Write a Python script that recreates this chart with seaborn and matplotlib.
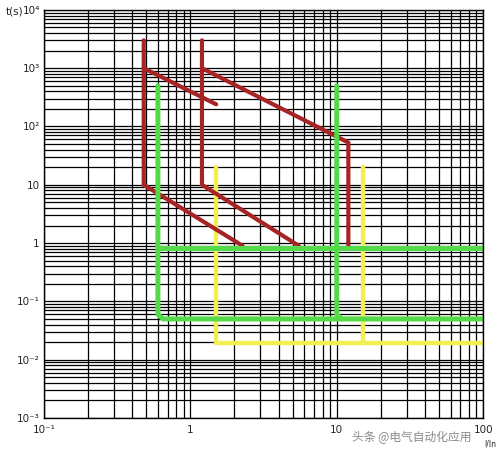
import seaborn as sns
import matplotlib as mpl
mpl.use("Agg")
import matplotlib.pyplot as plt
from matplotlib.ticker import LogLocator, NullFormatter

# 曲线数据 (I/In, t(s))
red1_x = [0.48, 0.48, 2.27]
red1_y = [3000, 10, 0.9]
red1_up_x = [0.48, 1.5]
red1_up_y = [1000, 240]

red2_x = [1.2, 1.2, 5.5]
red2_y = [3000, 10, 0.9]
red2_up_x = [1.2, 12, 12]
red2_up_y = [1000, 53, 0.9]

green1_x = [0.6, 0.6, 0.65, 100]
green1_y = [500, 0.06, 0.05, 0.05]
green_mid_x = [0.6, 100]
green_mid_y = [0.82, 0.82]
green2_x = [10, 10, 10.8]
green2_y = [500, 0.06, 0.05]

yellow1_x = [1.5, 1.5, 100]
yellow1_y = [20, 0.019, 0.019]
yellow_mid_x = [1.5, 100]
yellow_mid_y = [0.05, 0.05]
yellow2_x = [15, 15]
yellow2_y = [20, 0.019]

x_ticks = [0.1, 1, 10, 100]
x_labels = ["10⁻¹", "1", "10", "100"]
y_ticks = [1e-3, 1e-2, 1e-1, 1, 10, 1e2, 1e3, 1e4]
y_labels = ["10⁻³", "10⁻²", "10⁻¹", "1", "10", "10²", "10³", "10⁴"]

sns.set_style("white")
plt.rcParams['font.family'] = ['DejaVu Sans']

fig = plt.figure(figsize=(5.03, 4.54), dpi=100)
ax = fig.add_axes([0.0875, 0.0793, 0.873, 0.899])
ax.set_xscale("log")
ax.set_yscale("log")
ax.set_xlim(0.1, 100)
ax.set_ylim(1e-3, 1e4)

ax.xaxis.set_minor_locator(LogLocator(base=10, subs=range(2, 10)))
ax.yaxis.set_minor_locator(LogLocator(base=10, subs=range(2, 10)))
ax.xaxis.set_minor_formatter(NullFormatter())
ax.yaxis.set_minor_formatter(NullFormatter())
ax.grid(True, which="both", color="black", lw=0.9)
ax.set_axisbelow(True)

yel = "#f2ef55"
red = "#a82424"
grn = "#52da48"

for xs, ys in [(yellow_mid_x, yellow_mid_y), (yellow1_x, yellow1_y), (yellow2_x, yellow2_y)]:
    sns.lineplot(x=xs, y=ys, sort=False, estimator=None, color=yel, lw=3.2, ax=ax)
for xs, ys in [(red1_x, red1_y), (red1_up_x, red1_up_y), (red2_x, red2_y), (red2_up_x, red2_up_y)]:
    sns.lineplot(x=xs, y=ys, sort=False, estimator=None, color=red, lw=3.0, ax=ax)
for xs, ys in [(green1_x, green1_y), (green_mid_x, green_mid_y), (green2_x, green2_y)]:
    sns.lineplot(x=xs, y=ys, sort=False, estimator=None, color=grn, lw=3.6, ax=ax,
                 solid_joinstyle="round")

ax.set_xticks(x_ticks)
ax.set_xticklabels(x_labels, fontsize=7.5)
ax.set_yticks(y_ticks)
ax.set_yticklabels(y_labels, fontsize=7.5)
ax.tick_params(which="both", length=0)
ax.tick_params(axis="x", pad=5)
ax.tick_params(axis="y", pad=3)
for s in ax.spines.values():
    s.set_color("black")
    s.set_linewidth(1.0)

fig.text(0.012, 0.975, "t(s)", fontsize=7.5, va="center")
fig.text(0.975, 0.022, "I/In", fontsize=5.5, ha="center", va="center")
fig.text(0.70, 0.036, "头条 @电气自动化应用", fontsize=8.5, color="#8a8a8a",
         family=["Noto Sans CJK SC", "DejaVu Sans"], va="center")

fig.savefig("out.png", dpi=100)
